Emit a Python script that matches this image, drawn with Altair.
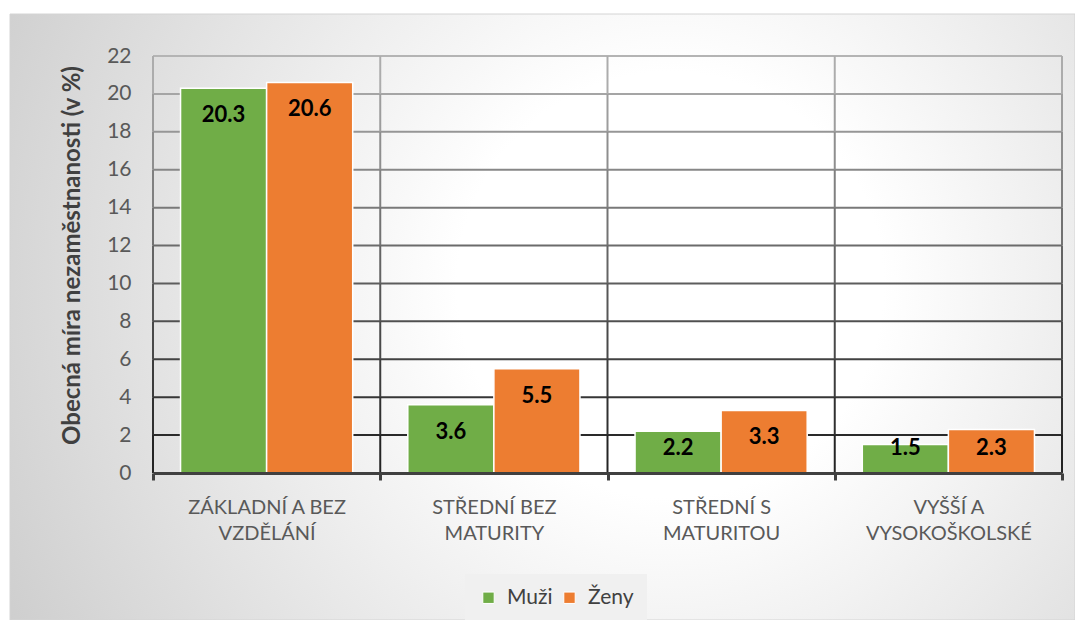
import altair as alt
import pandas as pd

categories = ["ZÁKLADNÍ A BEZ\nVZDĚLÁNÍ", "STŘEDNÍ BEZ\nMATURITY", "STŘEDNÍ S\nMATURITOU", "VYŠŠÍ A\nVYSOKOŠKOLSKÉ"]
series = ["Muži", "Ženy"]
muzi = [20.3, 3.6, 2.2, 1.5]
zeny = [20.6, 5.5, 3.3, 2.3]
y_ticks = [0, 2, 4, 6, 8, 10, 12, 14, 16, 18, 20, 22]
colors = ["#70AD47", "#ED7D31"]

W, H = 909, 417
SVG_W, SVG_H = 1067, 612
PAD_L, PAD_T = 145, 48
FONT = "Lato"

rows = []
for c, m, z in zip(categories, muzi, zeny):
    rows.append({"cat": c, "series": "Muži", "value": m})
    rows.append({"cat": c, "series": "Ženy", "value": z})
df = pd.DataFrame(rows)

grid_df = pd.DataFrame({"tick": y_ticks[1:]})
# vertical separators at category boundaries, split into segments for shading
seg_rows = []
for b in range(len(categories) + 1):
    for lo, hi in zip(y_ticks[:-1], y_ticks[1:]):
        seg_rows.append({"b": b, "lo": lo, "hi": hi, "mid": (lo + hi) / 2})
seg_df = pd.DataFrame(seg_rows)

yscale = alt.Scale(domain=[0, 22], nice=False, zero=True)
yaxis = alt.Axis(
    values=y_ticks, title="Obecná míra nezaměstnanosti (v %)",
    grid=False, ticks=False, domain=False, zindex=1,
    labelFont=FONT, labelFontSize=21, labelColor="#595959", labelPadding=22,
    titleFont=FONT, titleFontSize=24, titleFontWeight="bold", titleColor="#404040",
    titleX=-81, titleY=199, titleAngle=-90, titleAlign="center", titleBaseline="middle",
)
xaxis = alt.Axis(
    title=None, labelAngle=0, labelExpr="split(datum.label, '\\n')",
    labelFont=FONT, labelFontSize=20, labelColor="#595959", labelLineHeight=26,
    labelPadding=17, domainColor="#404040", domainWidth=3,
    tickColor="#404040", tickWidth=3, tickSize=7, tickBand="extent",
    grid=False, zindex=1,
)
shade = alt.Scale(domain=[0, 22], range=["#1e1e1e", "#b4b4b4"])

bg = alt.Chart(pd.DataFrame({"a": [0]})).mark_rect(
    fill=alt.Gradient(
        gradient="radial",
        stops=[alt.GradientStop(offset=0, color="#ffffff"),
               alt.GradientStop(offset=0.25, color="#ffffff"),
               alt.GradientStop(offset=1, color="#c4c4c4")],
        x1=0.62, y1=0.47, r1=0, x2=0.62, y2=0.47, r2=0.8,
    ),
    stroke="#d4d4d4", strokeWidth=1,
).encode(x=alt.value(-143), x2=alt.value(SVG_W - PAD_L), y=alt.value(-42), y2=alt.value(SVG_H - PAD_T))

grid = alt.Chart(grid_df).mark_rule(strokeWidth=2).encode(
    y=alt.Y("tick:Q", scale=yscale, axis=yaxis),
    stroke=alt.Stroke("tick:Q", scale=shade, legend=None),
)

vlines = alt.Chart(seg_df).mark_rule(strokeWidth=2).encode(
    x=alt.X("b:Q", scale=alt.Scale(domain=[0, len(categories)], nice=False, zero=False), axis=None),
    y=alt.Y("lo:Q", scale=yscale, axis=yaxis),
    y2="hi:Q",
    stroke=alt.Stroke("mid:Q", scale=shade, legend=None),
)

xscale = alt.Scale(domain=categories, paddingInner=0, paddingOuter=0)
xoff = alt.XOffset("series:N", scale=alt.Scale(domain=series, paddingOuter=0.32, paddingInner=0))

bars = alt.Chart(df).mark_bar(stroke="white", strokeWidth=1.5).encode(
    x=alt.X("cat:N", scale=xscale, sort=categories, axis=xaxis),
    xOffset=xoff,
    y=alt.Y("value:Q", scale=yscale, axis=yaxis),
    fill=alt.Fill("series:N", scale=alt.Scale(domain=series, range=colors), legend=alt.Legend(
        orient="none", legendX=312, legendY=518, direction="horizontal", title=None,
        symbolType="square", symbolSize=130, symbolStrokeColor="white", symbolStrokeWidth=1,
        labelFont=FONT, labelFontSize=21, labelColor="#404040", labelOffset=8,
        columnPadding=6, fillColor="#f0f0f0", padding=13,
    )),
)

labels = alt.Chart(df).transform_calculate(
    ly="max(datum.value - 1.42, 1.32)"
).mark_text(font=FONT, fontSize=22, fontWeight="bold", color="black", baseline="middle").encode(
    x=alt.X("cat:N", scale=xscale, sort=categories, axis=xaxis),
    xOffset=xoff,
    y=alt.Y("ly:Q", scale=yscale, axis=yaxis),
    text=alt.Text("value:Q", format=".1f"),
)

front = alt.layer(bars, labels)

chart = alt.layer(bg, grid, vlines, front).resolve_scale(x="independent").properties(
    width=W, height=H,
    autosize=alt.AutoSizeParams(type="none"),
    padding={"left": PAD_L, "top": PAD_T, "right": SVG_W - PAD_L - W, "bottom": SVG_H - PAD_T - H},
    background="white",
).configure_view(stroke=None)

chart.save("out.html", embed_options={"renderer": "svg", "actions": False})
